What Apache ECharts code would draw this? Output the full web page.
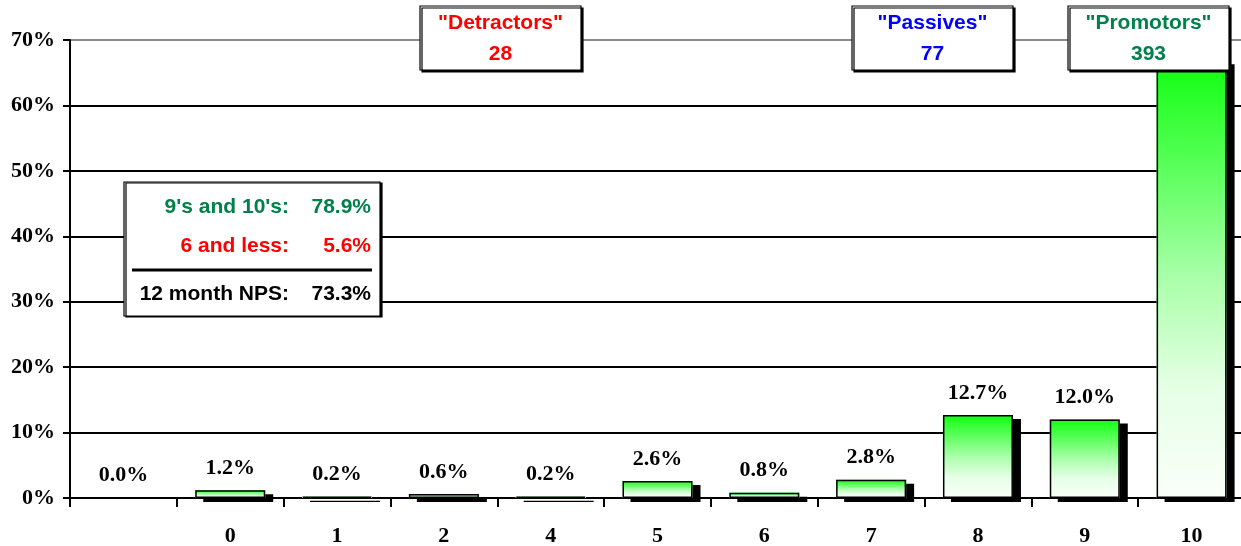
<!DOCTYPE html>
<html>
<head>
<meta charset="utf-8">
<script src="https://cdn.jsdelivr.net/npm/echarts@6/dist/echarts.min.js"></script>
<style>
  html, body { margin: 0; padding: 0; background: #fff; }
  #chart { width: 1241px; height: 546px; }
</style>
</head>
<body>
<div id="chart"></div>
<script>
// Score categories on the x axis and the share of responses for each (percent)
const categories = ['', '0', '1', '2', '4', '5', '6', '7', '8', '9', '10'];
const shares = [0.0, 1.2, 0.2, 0.6, 0.2, 2.6, 0.8, 2.8, 12.7, 12.0, 66.9];

// Y axis range and tick step (percent)
const yMin = 0;
const yMax = 70;
const yStep = 10;

// Respondent groups shown in the header boxes
const groupNames = ['"Detractors"', '"Passives"', '"Promotors"'];
const groupCounts = [28, 77, 393];
const groupColors = ['#ff0000', '#0000ff', '#00804a'];

// NPS summary box rows
const summaryLabels = ["9's and 10's:", '6 and less:', '12 month NPS:'];
const summaryValues = ['78.9%', '5.6%', '73.3%'];
const summaryColors = ['#00804a', '#ff0000', '#000000'];

const serif = '"Liberation Serif", "Times New Roman", serif';
const sans = '"Liberation Sans", Arial, sans-serif';

const chart = echarts.init(document.getElementById('chart'), null, { renderer: 'canvas' });

// Header boxes: [x, y, width, height]
const groupBoxes = [[420, 6, 161, 64], [852, 6, 161, 64], [1068, 6, 161, 64]];

const graphics = [];
groupBoxes.forEach(function (b, i) {
  graphics.push({
    type: 'rect', z: 100,
    shape: { x: b[0], y: b[1], width: b[2], height: b[3] },
    style: { fill: '#fff', stroke: '#000', lineWidth: 1.2,
             shadowColor: '#000', shadowOffsetX: 2, shadowOffsetY: 2, shadowBlur: 0 }
  });
  graphics.push({
    type: 'text', z: 101,
    style: { text: groupNames[i], x: b[0] + b[2] / 2, y: b[1] + 17,
             align: 'center', verticalAlign: 'middle',
             font: 'bold 21px ' + sans, fill: groupColors[i] }
  });
  graphics.push({
    type: 'text', z: 101,
    style: { text: String(groupCounts[i]), x: b[0] + b[2] / 2, y: b[1] + 48,
             align: 'center', verticalAlign: 'middle',
             font: 'bold 21px ' + sans, fill: groupColors[i] }
  });
});

// Summary box
graphics.push({
  type: 'rect', z: 100,
  shape: { x: 124, y: 182, width: 256, height: 134 },
  style: { fill: '#fff', stroke: '#000', lineWidth: 1.2,
           shadowColor: '#000', shadowOffsetX: 2, shadowOffsetY: 1, shadowBlur: 0 }
});
const rowY = [207, 246, 294];
summaryLabels.forEach(function (t, i) {
  graphics.push({
    type: 'text', z: 101,
    style: { text: t, x: 289, y: rowY[i], align: 'right', verticalAlign: 'middle',
             font: 'bold 21px ' + sans, fill: summaryColors[i] }
  });
  graphics.push({
    type: 'text', z: 101,
    style: { text: summaryValues[i], x: 371, y: rowY[i], align: 'right', verticalAlign: 'middle',
             font: 'bold 21px ' + sans, fill: summaryColors[i] }
  });
});
graphics.push({
  type: 'line', z: 101,
  shape: { x1: 132, y1: 270, x2: 372, y2: 270 },
  style: { stroke: '#000', lineWidth: 3 }
});

const gridColors = ['#000', '#000', '#000', '#000', '#000', '#000', '#000', '#8c8c8c'];

// Green-to-white vertical fill used by every bar
const barGradient = new echarts.graphic.LinearGradient(0, 0, 0, 1, [
  { offset: 0, color: '#10ff10' },
  { offset: 0.25, color: '#5cff5c' },
  { offset: 0.5, color: '#aaffaa' },
  { offset: 0.75, color: '#e6ffe6' },
  { offset: 1, color: '#fafffa' }
]);

chart.setOption({
  animation: false,
  backgroundColor: '#fff',
  grid: { left: 70, right: -4, top: 40, bottom: 48, containLabel: false, outerBoundsMode: 'none' },
  xAxis: {
    type: 'category',
    data: categories,
    axisLine: { lineStyle: { color: '#000', width: 2 } },
    axisTick: { show: true, length: 9, alignWithLabel: false, lineStyle: { color: '#000', width: 2 } },
    axisLabel: { margin: 27, color: '#000', fontFamily: serif, fontWeight: 'bold', fontSize: 22 },
    splitLine: { show: false }
  },
  yAxis: {
    type: 'value',
    min: yMin, max: yMax, interval: yStep,
    axisLine: { show: true, lineStyle: { color: '#000', width: 2 } },
    axisTick: { show: true, length: 7, inside: false, lineStyle: { color: '#000', width: 2 } },
    axisLabel: { formatter: '{value}%', margin: 15, color: '#000',
                 fontFamily: serif, fontWeight: 'bold', fontSize: 22 },
    splitLine: { show: true, lineStyle: { color: gridColors, width: 2 } }
  },
  series: [
    {
      // gradient fill with a solid drop shadow to the lower right
      type: 'bar',
      data: shares,
      barWidth: 70,
      z: 2,
      itemStyle: {
        color: barGradient,
        borderWidth: 0,
        shadowColor: '#000',
        shadowOffsetX: 8,
        shadowOffsetY: 4,
        shadowBlur: 0
      }
    },
    {
      // outline and value label on top of each bar
      type: 'bar',
      data: shares,
      barWidth: 70,
      barGap: '-100%',
      z: 3,
      itemStyle: {
        color: 'rgba(0,0,0,0)',
        borderColor: '#000',
        borderWidth: 1.5
      },
      label: {
        show: true,
        position: 'top',
        distance: 11,
        formatter: function (p) { return p.value.toFixed(1) + '%'; },
        color: '#000',
        fontFamily: serif,
        fontWeight: 'bold',
        fontSize: 22
      }
    }
  ],
  graphic: graphics
});
</script>
</body>
</html>
